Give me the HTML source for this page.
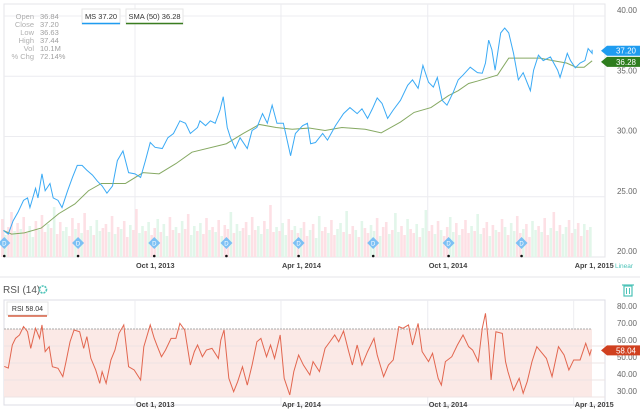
<!DOCTYPE html>
<html><head><meta charset="utf-8"><style>
body{margin:0;background:#fff;width:640px;height:409px;overflow:hidden;font-family:"Liberation Sans",sans-serif}
svg{display:block}
</style></head><body>
<svg id="c" width="640" height="409" xmlns="http://www.w3.org/2000/svg" font-family="Liberation Sans, sans-serif"></svg>
<script>
const priceDays=[19,25,31,37,44,49,52,59,62,67,71,77,81,87,92,99,105,111,117,123,130,136,142,148,155,161,168,175,183,190,196,202,208,217,224,231,239,246,252,261,264,271,277,283,289,293,298,302,308,314,323,329,335,342,348,354,360,368,377,383,392,398,402,408,417,423,433,443,451,460,466,473,479,485,491,498,505,514,523,529,536,542,549,555,560,566,572,580,586,592,601,610,616,620,624,628,632,639,644,649,655,661,667,676,680,686,692,701,710,713,722,726,732,738,744,748,753];
const priceVals=[22.2,21.9,23.0,23.7,24.7,24.9,24.1,25.7,24.9,26.9,25.5,26.1,24.9,24.7,24.1,25.5,26.6,27.6,27.6,27.2,26.8,26.3,25.9,25.3,25.9,28.0,28.8,27.0,26.9,26.6,28.0,29.5,29.1,29.0,29.9,30.25,31.3,31.1,30.25,30.75,31.3,30.9,31.3,31.1,32.2,33.3,30.75,29.9,29.0,29.9,29.0,30.5,30.75,31.9,31.1,32.6,31.1,31.1,28.4,30.25,30.9,31.1,29.4,29.5,30.25,29.7,30.9,31.9,32.4,31.9,32.3,31.5,32.3,33.2,32.75,31.5,32.2,33.0,34.25,34.7,34.0,35.9,34.5,34.1,34.9,33.0,32.6,33.7,34.7,35.1,35.75,35.3,35.25,36.1,38.0,37.2,35.5,38.6,39.0,38.6,36.9,34.7,35.3,33.8,35.5,36.75,36.3,36.6,35.5,34.9,36.9,36.3,35.7,36.1,36.3,37.3,36.9];
const priceTail=[37.2];
const smaDays=[19,29,45,66,88,108,125,141,151,171,193,213,234,254,297,318,338,359,379,400,420,441,470,490,514,531,552,574,586,599,610,635,649,688,704,721,733,743,753];
const smaVals=[22.2,21.9,22.0,22.4,23.6,24.4,25.5,26.1,26.1,26.1,27.0,26.9,27.75,28.7,29.4,30.25,31.0,30.75,30.6,30.7,30.5,30.75,30.6,30.3,31.2,32.0,32.4,33.4,33.8,34.4,34.6,35.1,36.5,36.5,36.3,36.1,35.75,35.75,36.28];
const rsiDays=[20,25,30,34,39,44,49,53,59,64,67,71,76,80,87,93,97,102,107,114,119,123,128,134,139,142,147,153,158,163,169,175,182,190,194,202,207,211,216,221,228,234,239,245,252,257,261,267,272,279,287,290,294,300,306,311,317,323,329,335,340,347,352,357,364,369,376,381,387,393,401,405,413,420,426,432,437,443,449,454,460,466,473,481,485,493,499,505,512,517,524,529,536,541,549,554,561,565,570,578,585,592,599,604,611,616,620,624,627,633,641,645,648,655,662,667,672,678,684,689,696,703,711,718,724,730,738,745,750,752];
const rsiVals=[48,47,60.6,64.5,66.5,71.4,68.4,58.6,70.4,64.5,72.4,56.7,59.6,47.8,46.9,42,50.8,62.5,69.4,68.4,58.6,65.5,52.7,45.9,38,44.9,38,51.8,57.6,67.4,72.4,47.8,45.9,40,59.6,72.4,64.5,59.6,53.7,57.6,64.5,64.5,73.3,69.4,48.8,56.7,60.6,53.7,57.6,58.6,52.7,63.5,69.4,41,33.1,39,47.8,37,48.8,62.5,64.5,53.7,60.6,52.7,66.5,41,31.2,44.9,54.7,48.8,43,50.8,44.9,58.6,62.5,66.5,62.5,68.8,57.6,48.8,60.6,48.8,56.7,64.5,54.7,42,48.8,51.8,71.4,70.4,72.4,60.6,73.3,56.7,50.8,55.7,41,37,50.8,53.7,60.6,66.5,59.6,57.6,50.8,70.4,79.2,60.6,40,68.4,67.4,50.8,44.9,34,41,32.2,39,50.8,59.6,56.7,52.7,42,59.6,54.7,45.9,51.8,51.8,61.6,54.7,58.04];
const volVals=[38,22,30,45,26,34,28,40,24,31,20,36,27,42,25,33,29,50,23,35,26,30,21,39,28,34,24,44,27,31,22,37,26,29,33,25,41,23,30,28,36,20,32,27,48,24,31,26,35,22,29,38,25,33,21,40,27,30,24,36,28,43,22,31,26,34,23,39,27,30,25,37,21,32,28,45,24,33,26,29,35,22,40,27,31,23,36,28,52,25,30,26,34,22,38,27,31,24,
29,35,21,27,33,19,41,26,30,24,37,22,28,34,25,46,23,31,27,20,36,29,24,32,26,39,21,30,35,23,27,44,25,31,22,38,28,24,33,20,29,47,26,32,23,36,27,21,30,40,25,34,22,28,37,24,31,26,43,23,29,35,21,32,27,25,38,30,22,34,26,41,24,28,33,20,36,27,31,25,39,22,29,45,26,32,23,30,37,24,28,34,21,33,27,30];
const volUp=[0,1,0,0,1,0,1,0,0,1,1,0,1,0,0,1,0,1,0,0,1,1,0,0,1,0,1,0,0,1,0,1,1,0,0,1,0,1,0,1,0,0,1,0,0,1,1,0,1,0,0,1,0,1,1,0,0,1,0,1,0,0,1,1,0,1,0,0,1,0,1,0,1,0,0,1,0,1,1,0,0,1,0,0,1,1,0,1,0,0,1,0,1,1,0,0,1,0,
1,0,0,1,0,1,1,0,0,1,0,0,1,1,0,1,0,0,1,0,1,0,0,1,1,0,1,0,0,1,0,1,1,0,0,1,0,0,1,0,1,1,0,0,1,0,1,0,0,1,1,0,1,0,0,0,1,0,1,1,0,0,1,0,1,0,0,1,0,1,1,0,0,1,0,0,1,1,0,1,0,0,1,0,1,0,1,1,0,0,1,0,0,1,0,1];
const divDays=[20,112,207,297,387,480,574,665];
const priceTicks=[20,25,30,35,40];
const rsiTicks=[30,40,50,60,70,80];
const dateTickDays=[183,365,548,730];
const dateTickLabels=["Oct 1, 2013","Apr 1, 2014","Oct 1, 2014","Apr 1, 2015"];
const ohlcLabels=["Open","Close","Low","High","Vol","% Chg"];
const ohlcValues=["36.84","37.20","36.63","37.44","10.1M","72.14%"];
const lastPrice=37.20, lastSma=36.28, lastRsi=58.04;

const svg=document.getElementById('c');
const NS='http://www.w3.org/2000/svg';
function mk(t,a,p){const e=document.createElementNS(NS,t);for(const k in a)e.setAttribute(k,a[k]);(p||svg).appendChild(e);return e;}
const X=d=>135+(d-183)*0.802;
const Y=p=>16+(40-p)*12.05;
const RY=r=>329+(70-r)*1.7;

let e;
e=mk('rect',{x:4,y:4,width:601,height:253,fill:'none',stroke:'#e4e4ea'});

e=mk('line',{x1:0,y1:277,x2:640,y2:277,stroke:'#e6e6ea'});

e=mk('rect',{x:4,y:300,width:601,height:105,fill:'none',stroke:'#dcdce4'});


priceTicks.forEach(t=>{
  if(t>20){e=mk('line',{x1:4,x2:605,y1:Y(t),y2:Y(t),stroke:'#ececf0'});
  }
  e=mk('text',{x:637,y:Y(t)-3,'text-anchor':'end','font-size':8,fill:'#666'});e.textContent=t.toFixed(2);
  
});
dateTickDays.forEach((d,i)=>{
  e=mk('line',{x1:X(d),x2:X(d),y1:4,y2:257,stroke:'#ececf0'});
  
  e=mk('line',{x1:X(d),x2:X(d),y1:300,y2:405,stroke:'#ececf0'});
  
  e=mk('text',{x:X(d)+1,y:268,'font-size':7.3,'font-weight':'bold',fill:'#444'});e.textContent=dateTickLabels[i];
  
  e=mk('text',{x:X(d)+1,y:407,'font-size':7.3,'font-weight':'bold',fill:'#444'});e.textContent=dateTickLabels[i];
  
});

const vStep=(753-16)/volVals.length;
volVals.forEach((v,i)=>{
  const d=16+i*vStep;
  e=mk('rect',{x:X(d),y:257-v,width:vStep*0.802*0.85,height:v,fill:volUp[i]?'#e2f6ea':'#fde0e5'});
  
});

e=mk('polyline',{points:smaDays.map((d,i)=>X(d)+','+Y(smaVals[i])).join(' '),fill:'none',stroke:'#86a963','stroke-width':1});

e=mk('polyline',{points:priceDays.map((d,i)=>X(d)+','+Y(priceVals[i])).join(' ')+' '+X(753)+','+Y(priceTail[0]),fill:'none',stroke:'#3aaaf5','stroke-width':1});


divDays.forEach(d=>{
  const x=X(d);
  e=mk('path',{d:`M${x} 237 L${x+6} 243 L${x} 249 L${x-6} 243 Z`,fill:'#7cc0f4'});
  
  e=mk('text',{x:x,y:245.5,'font-size':6,fill:'#fff','text-anchor':'middle'});e.textContent='D';
  
  e=mk('circle',{cx:x,cy:256,r:1.3,fill:'#111'});
  
});

function flag(y,txt,col,name){
  e=mk('path',{d:`M601 ${y} L607 ${y-5} L640 ${y-5} L640 ${y+5} L607 ${y+5} Z`,fill:col});
  
  e=mk('text',{x:636,y:y+3,'text-anchor':'end','font-size':8,fill:'#fff'});e.textContent=txt;
  
}
flag(Y(lastPrice)+1,lastPrice.toFixed(2),'#1f9cf0','price-flag');
flag(Y(lastSma)+1,lastSma.toFixed(2),'#2e7d1e','sma-flag');

e=mk('text',{x:615,y:268,'font-size':6.5,fill:'#4cc3b8'});e.textContent='Linear';


ohlcLabels.forEach((l,i)=>{
  e=mk('text',{x:34,y:19+i*8,'text-anchor':'end','font-size':7.5,fill:'#b0b0b0'});e.textContent=l;
  
  e=mk('text',{x:40,y:19+i*8,'font-size':7.5,fill:'#a0a0a0'});e.textContent=ohlcValues[i];
  
});
e=mk('rect',{x:82,y:9,width:38,height:15,fill:'#fff',stroke:'#e6e6e6'});

e=mk('text',{x:101,y:19,'text-anchor':'middle','font-size':7.5,fill:'#333'});e.textContent='MS 37.20';

e=mk('line',{x1:82,x2:120,y1:23.5,y2:23.5,stroke:'#1f9cf0','stroke-width':1.5});

e=mk('rect',{x:126,y:9,width:57,height:15,fill:'#fff',stroke:'#e6e6e6'});

e=mk('text',{x:154.5,y:19,'text-anchor':'middle','font-size':7.5,fill:'#333'});e.textContent='SMA (50) 36.28';

e=mk('line',{x1:126,x2:183,y1:23.5,y2:23.5,stroke:'#3a7d20','stroke-width':1.5});


e=mk('text',{x:3,y:293,'font-size':10,fill:'#555'});e.textContent='RSI (14)';

e=mk('circle',{cx:43,cy:289.5,r:3.5,fill:'none',stroke:'#4cc3b8','stroke-width':1.6,'stroke-dasharray':'2 1'});

e=mk('g',{});

mk('rect',{x:624,y:286,width:8,height:10,fill:'none',stroke:'#4cc3b8','stroke-width':1.2},e);
mk('line',{x1:622,x2:634,y1:285,y2:285,stroke:'#4cc3b8','stroke-width':1.2},e);
mk('line',{x1:626.5,x2:626.5,y1:288,y2:294,stroke:'#4cc3b8'},e);
mk('line',{x1:629.5,x2:629.5,y1:288,y2:294,stroke:'#4cc3b8'},e);

e=mk('rect',{x:4,y:RY(70),width:588,height:RY(30)-RY(70),fill:'#fbe9e6'});

rsiTicks.forEach(t=>{
  if(t!==70&&t!==80){e=mk('line',{x1:4,x2:605,y1:RY(t),y2:RY(t),stroke:'#ece4e4'});
  }
  e=mk('text',{x:637,y:RY(t)-3,'text-anchor':'end','font-size':8,fill:'#666'});e.textContent=t.toFixed(2);
  
});
e=mk('line',{x1:4,x2:592,y1:RY(70),y2:RY(70),stroke:'#aaa','stroke-dasharray':'2 1'});

e=mk('polyline',{points:rsiDays.map((d,i)=>X(d)+','+RY(rsiVals[i])).join(' '),fill:'none',stroke:'#e2664f','stroke-width':1});

flag(RY(lastRsi)+1,lastRsi.toFixed(2),'#d0401f','rsi-flag');
e=mk('rect',{x:7,y:302,width:41,height:13,fill:'#fff',stroke:'#e6e6e6'});

e=mk('text',{x:27.5,y:311,'text-anchor':'middle','font-size':7,fill:'#333'});e.textContent='RSI 58.04';

e=mk('line',{x1:8,x2:47,y1:316,y2:316,stroke:'#d0401f','stroke-width':1.3});

</script>
</body></html>
